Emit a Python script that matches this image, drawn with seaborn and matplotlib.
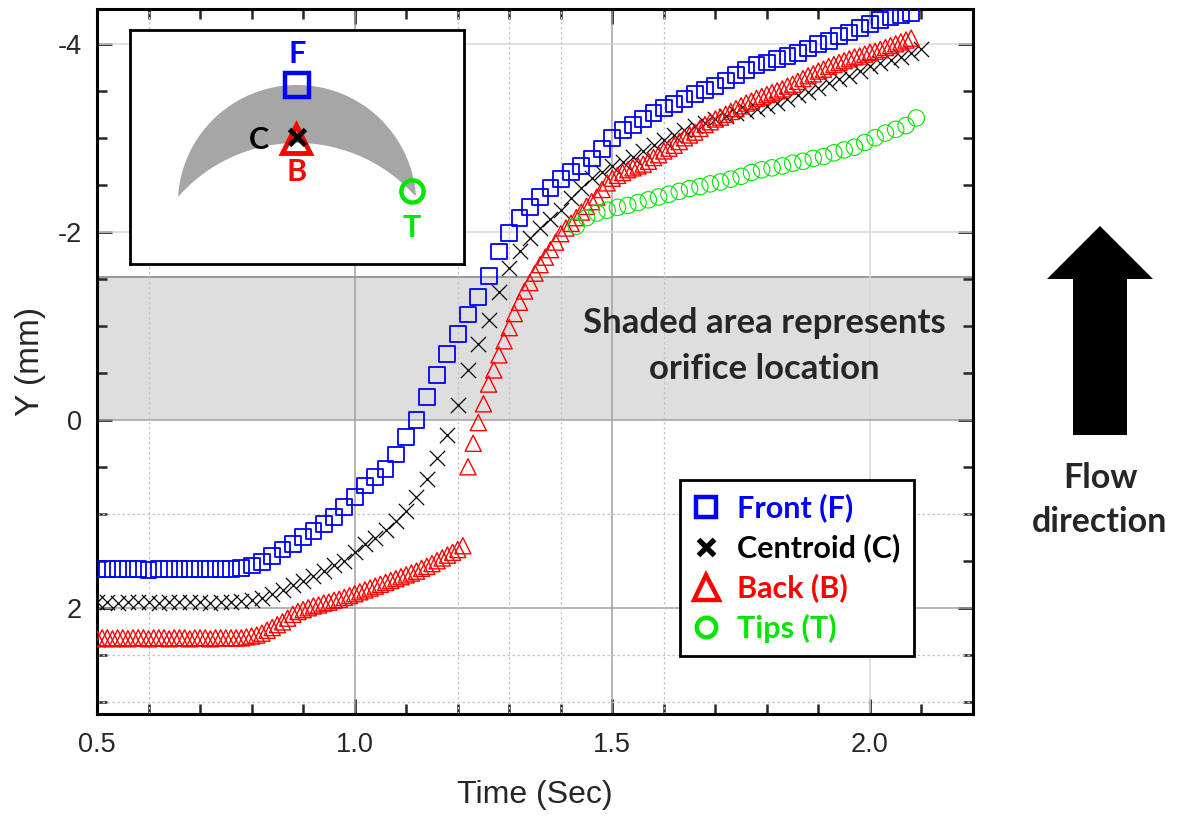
import numpy as np
import seaborn as sns
import matplotlib.pyplot as plt
from matplotlib.lines import Line2D
from matplotlib.ticker import MultipleLocator

# ---- values: time (s) and Y position (mm) ----
t_front = [0.50, 0.52, 0.54, 0.56, 0.58, 0.60, 0.62, 0.64, 0.66, 0.68, 0.70, 0.72, 0.74, 0.76, 0.78,
           0.80, 0.82, 0.84, 0.86, 0.88, 0.90, 0.92, 0.94, 0.96, 0.98, 1.00,
           1.02, 1.04, 1.06, 1.08, 1.10, 1.12, 1.14, 1.16, 1.18, 1.20, 1.22, 1.24, 1.26, 1.28, 1.30,
           1.32, 1.34, 1.36, 1.38, 1.40, 1.42, 1.44, 1.46, 1.48, 1.50,
           1.52, 1.54, 1.56, 1.58, 1.60, 1.62, 1.64, 1.66, 1.68, 1.70, 1.72, 1.74, 1.76, 1.78, 1.80,
           1.82, 1.84, 1.86, 1.88, 1.90, 1.92, 1.94, 1.96, 1.98, 2.00, 2.02, 2.04, 2.06, 2.08]
y_front = [1.59, 1.59, 1.59, 1.59, 1.59, 1.60, 1.59, 1.59, 1.59, 1.59, 1.59, 1.59, 1.59, 1.59, 1.58,
           1.55, 1.51, 1.45, 1.38, 1.32, 1.25, 1.18, 1.11, 1.03, 0.93, 0.82,
           0.70, 0.61, 0.52, 0.37, 0.18, 0.00, -0.24, -0.48, -0.70, -0.91, -1.12, -1.31, -1.53, -1.79, -1.99,
           -2.15, -2.26, -2.37, -2.47, -2.56, -2.64, -2.70, -2.78, -2.88, -3.00,
           -3.08, -3.14, -3.20, -3.26, -3.32, -3.36, -3.41, -3.47, -3.51, -3.55, -3.61, -3.67, -3.72, -3.77, -3.80,
           -3.84, -3.87, -3.90, -3.95, -4.00, -4.03, -4.08, -4.12, -4.17, -4.21, -4.25, -4.28, -4.30, -4.33]

t_centroid = [0.50, 0.52, 0.54, 0.56, 0.58, 0.60, 0.62, 0.64, 0.66, 0.68, 0.70, 0.72, 0.74, 0.76, 0.78, 0.80,
              0.82, 0.84, 0.86, 0.88, 0.90, 0.92, 0.94, 0.96, 0.98, 1.00,
              1.02, 1.04, 1.06, 1.08, 1.10, 1.12, 1.14, 1.16, 1.18, 1.20, 1.22, 1.24, 1.26, 1.28, 1.30,
              1.32, 1.34, 1.36, 1.38, 1.40, 1.42, 1.44, 1.46, 1.48, 1.50,
              1.52, 1.54, 1.56, 1.58, 1.60, 1.62, 1.64, 1.66, 1.68, 1.70, 1.72, 1.74, 1.76, 1.78, 1.80,
              1.82, 1.84, 1.86, 1.88, 1.90, 1.92, 1.94, 1.96, 1.98, 2.00, 2.02, 2.04, 2.06, 2.08, 2.10]
y_centroid = [1.94, 1.94, 1.95, 1.94, 1.94, 1.94, 1.95, 1.94, 1.94, 1.94, 1.94, 1.95, 1.94, 1.94, 1.93, 1.92,
              1.90, 1.85, 1.81, 1.76, 1.72, 1.66, 1.61, 1.55, 1.50, 1.41,
              1.32, 1.26, 1.17, 1.08, 0.97, 0.82, 0.63, 0.41, 0.16, -0.16, -0.53, -0.81, -1.06, -1.36, -1.62,
              -1.80, -1.93, -2.04, -2.14, -2.23, -2.36, -2.47, -2.57, -2.64, -2.70,
              -2.74, -2.80, -2.86, -2.92, -2.98, -3.03, -3.08, -3.12, -3.16, -3.20, -3.23, -3.26, -3.29, -3.31, -3.34,
              -3.37, -3.41, -3.45, -3.49, -3.53, -3.58, -3.62, -3.66, -3.71, -3.76, -3.80, -3.83, -3.86, -3.90, -3.94]

# back point: two recorded stretches (before and after the jump at ~1.21 s)
t_back_1 = [0.50, 0.51, 0.52, 0.53, 0.54, 0.55, 0.56, 0.57, 0.58, 0.59, 0.60, 0.61, 0.62, 0.63, 0.64,
            0.65, 0.66, 0.67, 0.68, 0.69, 0.70, 0.71, 0.72, 0.73, 0.74, 0.75, 0.76, 0.77, 0.78,
            0.79, 0.80, 0.81, 0.82, 0.83, 0.84, 0.85, 0.86, 0.87, 0.88, 0.89, 0.90, 0.91, 0.92, 0.93,
            0.94, 0.95, 0.96, 0.97, 0.98, 0.99, 1.00, 1.01, 1.02, 1.03, 1.04, 1.05, 1.06, 1.07, 1.08,
            1.09, 1.10, 1.11, 1.12, 1.13, 1.14, 1.15, 1.16, 1.17, 1.18, 1.19, 1.20, 1.21]
y_back_1 = [2.33, 2.32, 2.32, 2.33, 2.32, 2.32, 2.33, 2.32, 2.32, 2.32, 2.33, 2.32, 2.32, 2.32, 2.33,
            2.32, 2.32, 2.32, 2.33, 2.32, 2.32, 2.32, 2.33, 2.32, 2.32, 2.32, 2.32, 2.32, 2.32,
            2.31, 2.30, 2.29, 2.27, 2.24, 2.21, 2.18, 2.15, 2.11, 2.07, 2.04, 2.02, 2.00, 1.98, 1.97,
            1.95, 1.94, 1.92, 1.91, 1.89, 1.87, 1.85, 1.83, 1.81, 1.79, 1.77, 1.75, 1.73, 1.71, 1.69,
            1.67, 1.65, 1.63, 1.61, 1.58, 1.56, 1.53, 1.50, 1.47, 1.44, 1.41, 1.38, 1.34]
t_back_2 = [1.22, 1.23, 1.24, 1.25, 1.26, 1.27, 1.28, 1.29, 1.30, 1.31, 1.32, 1.33, 1.34, 1.35, 1.36,
            1.37, 1.38, 1.39, 1.40, 1.41, 1.42, 1.43, 1.44, 1.45, 1.46, 1.47, 1.48, 1.49, 1.50,
            1.51, 1.52, 1.53, 1.54, 1.55, 1.56, 1.57, 1.58, 1.59, 1.60, 1.61, 1.62, 1.63, 1.64, 1.65,
            1.66, 1.67, 1.68, 1.69, 1.70, 1.71, 1.72, 1.73, 1.74, 1.75, 1.76, 1.77, 1.78, 1.79, 1.80,
            1.81, 1.82, 1.83, 1.84, 1.85, 1.86, 1.87, 1.88, 1.89, 1.90, 1.91, 1.92, 1.93, 1.94, 1.95,
            1.96, 1.97, 1.98, 1.99, 2.00, 2.01, 2.02, 2.03, 2.04, 2.05, 2.06, 2.07, 2.08]
y_back_2 = [0.50, 0.25, 0.03, -0.17, -0.38, -0.53, -0.69, -0.84, -0.98, -1.13, -1.25, -1.37, -1.46, -1.56, -1.65,
            -1.73, -1.81, -1.89, -1.98, -2.04, -2.09, -2.15, -2.21, -2.27, -2.32, -2.37, -2.45, -2.52, -2.57,
            -2.60, -2.63, -2.66, -2.68, -2.70, -2.72, -2.75, -2.79, -2.82, -2.86, -2.89, -2.92, -2.96, -3.00, -3.03,
            -3.06, -3.10, -3.14, -3.17, -3.20, -3.22, -3.25, -3.28, -3.31, -3.34, -3.37, -3.39, -3.42, -3.44, -3.46,
            -3.48, -3.50, -3.52, -3.55, -3.57, -3.60, -3.63, -3.66, -3.68, -3.71, -3.73, -3.76, -3.78, -3.80, -3.82,
            -3.84, -3.86, -3.87, -3.89, -3.91, -3.92, -3.94, -3.96, -3.98, -4.00, -4.02, -4.04, -4.06]

t_tips = [1.43, 1.45, 1.47, 1.49, 1.51, 1.53, 1.55, 1.57, 1.59, 1.61, 1.63, 1.65, 1.67, 1.69, 1.71, 1.73, 1.75,
          1.77, 1.79, 1.81, 1.83, 1.85, 1.87, 1.89, 1.91, 1.93, 1.95, 1.97, 1.99, 2.01, 2.03, 2.05, 2.07, 2.09]
y_tips = [-2.06, -2.15, -2.20, -2.23, -2.26, -2.28, -2.31, -2.34, -2.37, -2.40, -2.43, -2.46, -2.48, -2.51, -2.53,
          -2.56, -2.59, -2.63, -2.66, -2.68, -2.70, -2.73, -2.75, -2.78, -2.80, -2.84, -2.87, -2.90, -2.95, -3.00,
          -3.05, -3.09, -3.13, -3.21]

orifice = (-1.52, 0.0)          # shaded band, mm
labels = ["Front (F)", "Centroid (C)", "Back (B)", "Tips (T)"]
colors = ["#0000ff", "#000000", "#ff0000", "#00e600"]

BOLD = ['Lato', 'DejaVu Sans']
W, H = 1182, 823

sns.set_style("ticks")
plt.rcParams['font.family'] = ['Liberation Sans', 'DejaVu Sans']
plt.rcParams['axes.unicode_minus'] = False

fig = plt.figure(figsize=(W / 100, H / 100), dpi=100)
ax = fig.add_axes([97 / W, 1 - 714 / H, 876 / W, 705 / H])

# orifice band + grid
ax.axhspan(*orifice, color='#dedede', lw=0, zorder=0)
ax.axhline(orifice[0], color='#8a8a8a', lw=1.2, zorder=0.5)
for xv in [1.0, 1.5]:
    ax.axvline(xv, color='#a0a0a0', lw=1.1, zorder=0.6)
ax.axvline(2.0, color='#d8d8d8', lw=1.1, zorder=0.6)
for yv in [0, 2]:
    ax.axhline(yv, color='#a0a0a0', lw=1.1, zorder=0.6)
for yv in [-4, -2]:
    ax.axhline(yv, color='#d8d8d8', lw=1.1, zorder=0.6)
for xv in [0.6, 1.2, 1.3, 1.4, 1.6]:
    ax.axvline(xv, color='#c4c4c4', lw=0.9, ls=(0, (2, 2)), zorder=0.6)
for yv in [1.0, 2.5, 3.0]:
    ax.axhline(yv, color='#c4c4c4', lw=0.9, ls=(0, (2, 2)), zorder=0.6)

# series
sns.scatterplot(x=t_centroid, y=y_centroid, marker='x', s=120, color=colors[1],
                linewidth=0.9, ax=ax, legend=False, zorder=3)
sns.scatterplot(x=t_front, y=y_front, marker='s', s=130, color=colors[0], facecolor='none',
                edgecolor=colors[0], linewidth=1.3, ax=ax, legend=False, zorder=3)
for tb, yb in [(t_back_1, y_back_1), (t_back_2, y_back_2)]:
    sns.scatterplot(x=tb, y=yb, marker='^', s=135, color=colors[2], facecolor='none',
                    edgecolor=colors[2], linewidth=1.0, ax=ax, legend=False, zorder=3)
sns.scatterplot(x=t_tips, y=y_tips, marker='o', s=140, color=colors[3], facecolor='none',
                edgecolor=colors[3], linewidth=0.8, ax=ax, legend=False, zorder=3)

ax.set_xlim(0.5, 2.2)
ax.set_ylim(3.13, -4.37)
ax.xaxis.set_major_locator(MultipleLocator(0.5))
ax.xaxis.set_minor_locator(MultipleLocator(0.1))
ax.yaxis.set_major_locator(MultipleLocator(2))
ax.yaxis.set_minor_locator(MultipleLocator(0.5))
ax.tick_params(which='both', direction='in', top=True, right=True, labelsize=19.5)
ax.tick_params(axis='x', which='major', pad=13)
ax.tick_params(axis='y', which='major', pad=11)
ax.tick_params(which='major', length=11, width=2)
ax.tick_params(which='minor', length=7, width=1.8)
for sp in ax.spines.values():
    sp.set_linewidth(2.2)
    sp.set_color('black')
ax.set_xlabel("Time (Sec)", fontsize=23, labelpad=16)
ax.set_ylabel("Y (mm)", fontsize=24, labelpad=8)

ax.text(1.795, -1.03, "Shaded area represents", ha='center', va='center',
        fontsize=25, fontweight='bold', family=BOLD)
ax.text(1.795, -0.54, "orifice location", ha='center', va='center',
        fontsize=25, fontweight='bold', family=BOLD)

handles = [Line2D([], [], ls='', marker='s', ms=14, mfc='none', mec=colors[0], mew=3.2),
           Line2D([], [], ls='', marker='x', ms=12, color=colors[1], mew=3.8),
           Line2D([], [], ls='', marker='^', ms=18, mfc='none', mec=colors[2], mew=3.2),
           Line2D([], [], ls='', marker='o', ms=14, mfc='none', mec=colors[3], mew=3.2)]
leg = ax.legend(handles, labels, loc='upper left', bbox_to_anchor=(0.6655, 0.332),
                borderaxespad=0, frameon=True, fancybox=False, edgecolor='black',
                framealpha=1, labelcolor=colors,
                prop={'family': BOLD, 'weight': 'bold', 'size': 22},
                handlelength=0.8, handletextpad=0.6, labelspacing=0.36, borderpad=0.45)
leg.get_frame().set_linewidth(2)

# inset sketch of the bubble (figure pixel coordinates)
ins = fig.add_axes([130 / W, 1 - 264 / H, 334 / W, 234 / H])
ins.set_xlim(130, 464)
ins.set_ylim(264, 30)
ins.set_xticks([])
ins.set_yticks([])
for sp in ins.spines.values():
    sp.set_linewidth(2)
    sp.set_color('black')
tip_l, tip_r = (178, 197), (415, 195)
outer_c, outer_r = (297, 204.2), 119.2
inner_c, inner_r = (297, 301.1), 158.1


def arc(c, r, p0, p1, n=80):
    a0 = np.arctan2(c[1] - p0[1], p0[0] - c[0])
    a1 = np.arctan2(c[1] - p1[1], p1[0] - c[0])
    a = np.linspace(a0, a1, n)
    return c[0] + r * np.cos(a), c[1] - r * np.sin(a)


ox, oy = arc(outer_c, outer_r, tip_l, tip_r)
ix, iy = arc(inner_c, inner_r, tip_r, tip_l)
ins.fill(np.r_[ox, ix], np.r_[oy, iy], color='#a6a6a6', lw=0)
ins.plot(297, 85, marker='s', ms=17, mfc='none', mec=colors[0], mew=3.2)
ins.plot(296, 139, marker='^', ms=20, mfc='none', mec=colors[2], mew=3.5)
ins.plot(297, 137, marker='x', ms=12, color=colors[1], mew=3.5)
ins.plot(412, 191, marker='o', ms=16, mfc='none', mec=colors[3], mew=3.2)
for lx, ly, s, c in [(297, 54, 'F', colors[0]), (259, 140, 'C', colors[1]),
                     (297, 172, 'B', colors[2]), (412, 228, 'T', colors[3])]:
    ins.text(lx, ly, s, color=c, ha='center', va='center', fontsize=22,
             fontweight='bold', family=BOLD)

# flow direction arrow on the right
over = fig.add_axes([0, 0, 1, 1], zorder=5)
over.set_xlim(0, W)
over.set_ylim(H, 0)
over.axis('off')
over.patch.set_alpha(0)
over.fill([1073, 1073, 1047, 1100, 1153, 1127, 1127],
          [435, 279, 279, 226, 279, 279, 435], color='black', lw=0)
over.text(1100, 478, "Flow", ha='center', va='center', fontsize=24.5,
          fontweight='bold', family=BOLD)
over.text(1100, 522, "direction", ha='center', va='center', fontsize=24.5,
          fontweight='bold', family=BOLD)

fig.savefig("out.png", dpi=100)
